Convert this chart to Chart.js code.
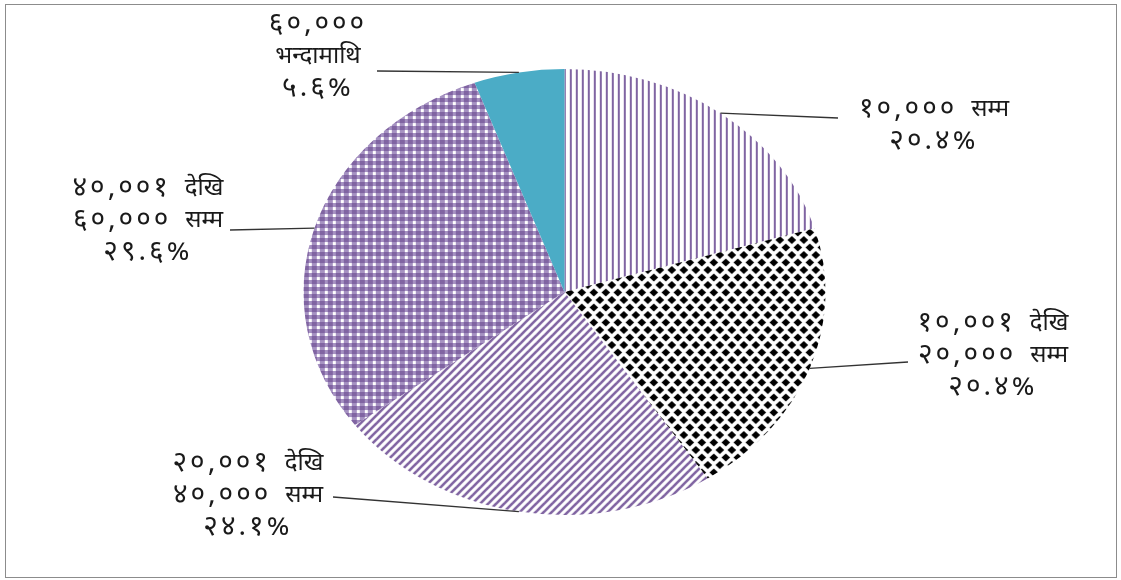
<!DOCTYPE html>
<html>
<head>
<meta charset="utf-8">
<script src="https://cdn.jsdelivr.net/npm/chart.js@4"></script>
<style>
  html, body { margin: 0; padding: 0; background: #fff; }
  canvas { display: block; }
</style>
</head>
<body>
<canvas id="pieChart" width="1121" height="580"></canvas>
<script>
// data
const categories = [
    ["१०,००० सम्म"],
    ["१०,००१ देखि", "२०,००० सम्म"],
    ["२०,००१ देखि", "४०,००० सम्म"],
    ["४०,००१ देखि", "६०,००० सम्म"],
    ["६०,०००", "भन्दामाथि"]
];
const shares = [20.4, 20.4, 24.1, 29.6, 5.6];
const shareLabels = ["२०.४%", "२०.४%", "२४.१%", "२९.६%", "५.६%"];

// label placement (text block centre, first line y, leader end)
const labelPos = [
    { x: 934, y: 112, end: [838, 118] },
    { x: 993, y: 326, end: [908, 362] },
    { x: 248, y: 466, end: [333, 497] },
    { x: 148, y: 191, end: [230, 230] },
    { x: 318, y: 27, end: [377, 71] }
];

const PURPLE = "#8064a2";
const TEAL = "#4bacc6";
const STRETCH = 261 / 223;   // pie is drawn as an ellipse
const WORD_FONT = '24px "Noto Sans Devanagari", "Noto Sans", sans-serif';
const NUM_FONT = '28px "Noto Sans Devanagari", "Noto Sans", sans-serif';

const canvas = document.getElementById("pieChart");
const ctx = canvas.getContext("2d");

function makePattern(w, h, draw) {
    const c = document.createElement("canvas");
    c.width = w; c.height = h;
    const g = c.getContext("2d");
    g.fillStyle = "#fff";
    g.fillRect(0, 0, w, h);
    draw(g, w, h);
    const p = ctx.createPattern(c, "repeat");
    p.setTransform(new DOMMatrix().scale(1 / STRETCH, 1));
    return p;
}

const vLines = makePattern(6, 6, (g) => {
    g.fillStyle = PURPLE;
    g.fillRect(0, 0, 2, 6);
});

const diamonds = makePattern(12, 15, (g) => {
    g.fillStyle = "#000";
    const dia = (x, y) => {
        g.beginPath();
        g.moveTo(x - 4.3, y); g.lineTo(x, y - 4); g.lineTo(x + 4.3, y); g.lineTo(x, y + 4);
        g.closePath(); g.fill();
    };
    [[0, 0], [12, 0], [0, 15], [12, 15], [6, 7.5]].forEach(p => dia(p[0], p[1]));
});

const diagLines = makePattern(8, 8, (g) => {
    g.strokeStyle = PURPLE;
    g.lineWidth = 2.6;
    for (let k = -1; k <= 1; k++) {
        g.beginPath();
        g.moveTo(k * 8 - 1, 9);
        g.lineTo(k * 8 + 9, -1);
        g.stroke();
    }
});

const checks = makePattern(8, 7, (g, w, h) => {
    g.fillStyle = "#a692c2";
    g.fillRect(0, 0, w, h);
    g.fillStyle = PURPLE;
    g.fillRect(0, 0, 5, 4);
    g.fillStyle = "#fff";
    g.fillRect(5, 4, 3, 3);
});

const fills = [vLines, diamonds, diagLines, checks, TEAL];

// numbers are drawn bigger and spaced out, words are kept tight
function styleFor(c, token) {
    const isNum = /[०-९]/.test(token);
    c.font = isNum ? NUM_FONT : WORD_FONT;
    c.letterSpacing = isNum ? "3px" : "0px";
}

function drawLabelLine(c, text, cx, y) {
    const tokens = text.split(" ");
    const gap = 14;
    const widths = tokens.map(t => {
        styleFor(c, t);
        return c.measureText(t).width;
    });
    const total = widths.reduce((s, w) => s + w, 0) + gap * (tokens.length - 1);
    let x = cx - total / 2;
    tokens.forEach((t, i) => {
        styleFor(c, t);
        c.fillText(t, x, y);
        x += widths[i] + gap;
    });
    c.letterSpacing = "0px";
}

const ellipsePlugin = {
    id: "ellipse",
    beforeDraw(chart) {
        const c = chart.ctx;
        c.save();
        c.strokeStyle = "#8c8c8c";
        c.lineWidth = 1;
        c.strokeRect(5.5, 4.5, 1111, 573);
        c.restore();
    },
    beforeDatasetsDraw(chart) {
        const arc = chart.getDatasetMeta(0).data[0];
        const c = chart.ctx;
        c.save();
        c.translate(arc.x, arc.y);
        c.scale(STRETCH, 1);
        c.translate(-arc.x, -arc.y);
    },
    afterDatasetsDraw(chart) {
        chart.ctx.restore();
    },
    afterDraw(chart) {
        const c = chart.ctx;
        c.save();
        c.fillStyle = "#1a1a1a";
        c.textAlign = "left";
        c.textBaseline = "middle";
        chart.getDatasetMeta(0).data.forEach((arc, i) => {
            const a = (arc.startAngle + arc.endAngle) / 2;
            const ax = arc.x + arc.outerRadius * STRETCH * Math.cos(a);
            const ay = arc.y + arc.outerRadius * Math.sin(a);
            const lp = labelPos[i];
            c.strokeStyle = "#333";
            c.lineWidth = 1.3;
            c.beginPath();
            c.moveTo(ax, ay);
            c.lineTo(lp.end[0], lp.end[1]);
            c.stroke();
            const lines = categories[i].concat([shareLabels[i]]);
            lines.forEach((t, k) => {
                drawLabelLine(c, t, lp.x, lp.y + k * 32);
            });
        });
        c.restore();
    }
};

new Chart(canvas, {
    type: "pie",
    data: {
        labels: categories.map(l => l.join(" ")),
        datasets: [{
            data: shares,
            backgroundColor: fills,
            borderWidth: 0
        }]
    },
    options: {
        responsive: false,
        animation: false,
        layout: {
            padding: { left: 300, right: 292, top: 69, bottom: 65 }
        },
        plugins: {
            legend: { display: false },
            tooltip: { enabled: false }
        }
    },
    plugins: [ellipsePlugin]
});
</script>
</body>
</html>
